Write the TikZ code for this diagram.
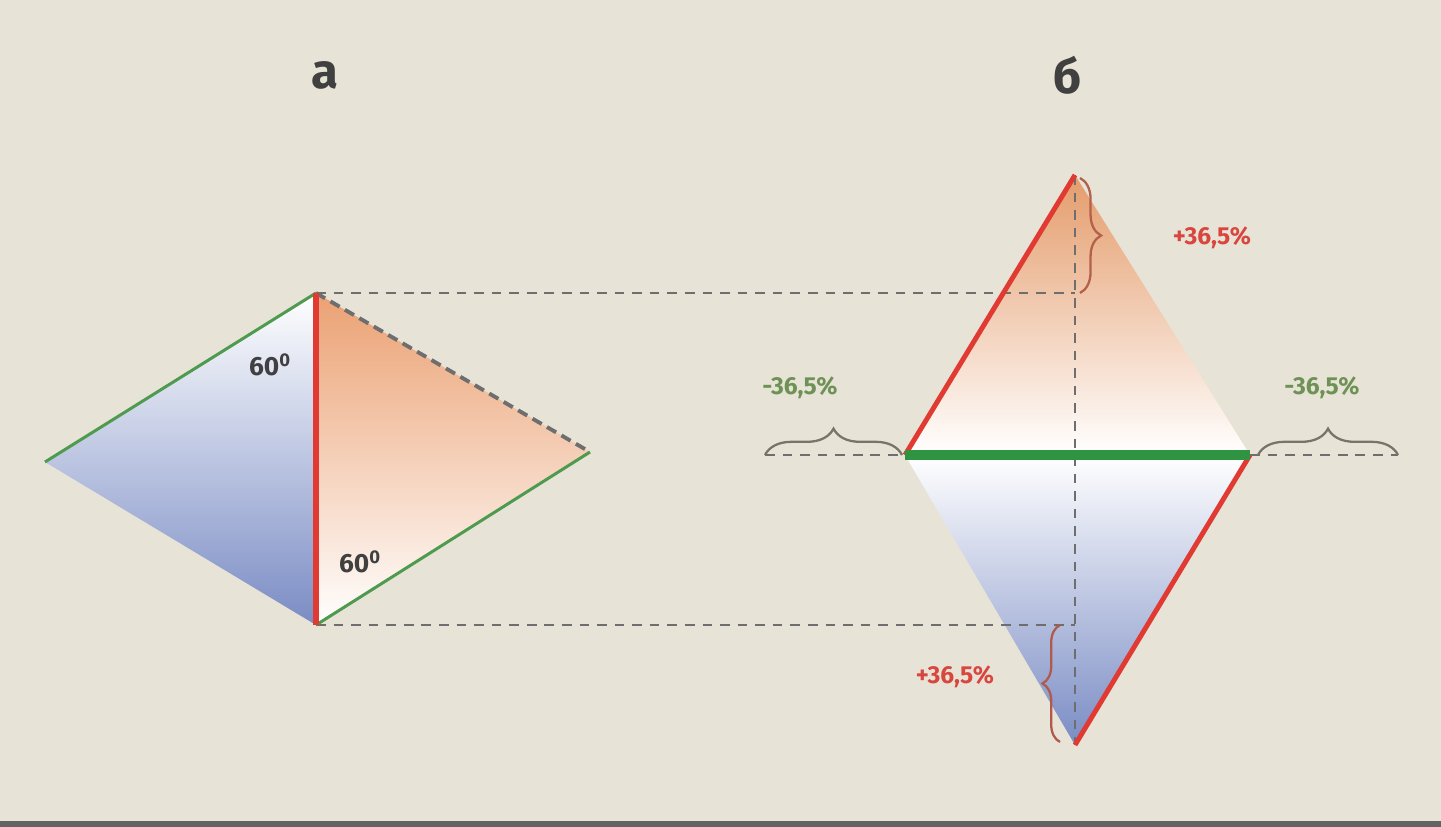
\documentclass[tikz,border=0pt]{standalone}
\usepackage{fontspec}
\setmainfont{Fira Sans}
\usetikzlibrary{decorations.pathreplacing}

\definecolor{paper}{HTML}{E7E4D7}
\definecolor{edgered}{HTML}{E03A32}
\definecolor{edgegreen}{HTML}{4E9A4E}
\definecolor{bargreen}{HTML}{2F9441}
\definecolor{txtred}{HTML}{D8463E}
\definecolor{txtgreen}{HTML}{6E9156}
\definecolor{peach}{HTML}{EBA173}
\definecolor{steel}{HTML}{7A8CC4}
\definecolor{guide}{HTML}{6E6E6E}
\definecolor{bracered}{HTML}{B05A4E}
\definecolor{bracegray}{HTML}{7A7468}

\newcommand*{\picw}{1441}
\newcommand*{\pich}{827}

\begin{document}
\begin{tikzpicture}
[
	x=0.02cm, y=-0.02cm,
	rededge/.style={edgered,line width=3.4pt},
	greenedge/.style={edgegreen,line width=1.7pt},
	guideline/.style={guide,line width=1.1pt,dash pattern=on 5.5pt off 4.5pt},
	bracemark/.style={decorate,decoration={brace,amplitude=#1},line width=1.3pt},
	pct/.style={font=\fontsize{14}{16}\selectfont\bfseries},
	angle label/.style={font=\fontsize{15}{17}\selectfont\bfseries,text=black!75},
	caption/.style={font=\fontsize{28}{30}\selectfont\bfseries,text=black!75}
]

	% paper
	\fill[paper] (0,0) rectangle (\picw,\pich);
	\useasboundingbox (0,0) rectangle (\picw,\pich);
	\fill[guide!90!black] (0,821) rectangle (\picw,\pich);

	% corners
	\coordinate (aL) at (45,462);
	\coordinate (aT) at (316,293);
	\coordinate (aR) at (590,452);
	\coordinate (aB) at (316,625);
	\coordinate (bL) at (905,455);
	\coordinate (bR) at (1250,455);
	\coordinate (bT) at (1075,175);
	\coordinate (bB) at (1075,745);
	\coordinate (lEnd) at (765,455);
	\coordinate (rEnd) at (1398,455);

	% fills
	\shade[top color=white,bottom color=steel] (aL) -- (aT) -- (aB) -- cycle;
	\shade[top color=peach,bottom color=white] (aT) -- (aR) -- (aB) -- cycle;
	\shade[top color=peach!85!brown,middle color=peach!45!white,bottom color=white] (bL) -- (bT) -- (bR) -- cycle;
	\shade[top color=white,bottom color=steel] (bL) -- (bR) -- (bB) -- cycle;

	% guides
	\draw[guideline] (aT) -- (aT -| bT);
	\draw[guideline] (aB) -- (aB -| bT);
	\draw[guideline] (bT) -- (bB);
	\draw[guideline] (lEnd) -- (bL);
	\draw[guideline] (bR) -- (rEnd);

	% rhombus a
	\draw[greenedge] (aL) -- (aT);
	\draw[greenedge] (aR) -- (aB);
	\draw[guide,line width=2.2pt,dash pattern=on 6pt off 3.5pt] (aT) -- (aR);
	\draw[rededge] (aT) -- (aB);

	% figure b
	\draw[rededge,line width=2.8pt] (bL) -- (bT);
	\draw[rededge,line width=2.8pt] (bR) -- (bB);
	\draw[bargreen,line width=5.7pt] (bL) -- (bR);

	% braces
	\draw[bracemark=12pt,bracered!80!brown] (1080,178) -- (1080,293);
	\draw[bracemark=10pt,bracered] (1060,742) -- (1060,625);
	\foreach \xa/\xb in {765/902,1258/1398} {
		\draw[bracemark=15pt,bracegray] (\xa,455) -- (\xb,455);
	}

	% labels
	\node[caption] (capA) at (325,75) {а};
	\node[caption] (capB) at (1068,75) {б};
	\node[angle label] (angTop) at (270,365) {60\textsuperscript{0}};
	\node[angle label] (angBot) at (360,562) {60\textsuperscript{0}};
	\node[pct,txtred] (pctTop) at (1212,238) {+36,5\%};
	\node[pct,txtred] (pctBot) at (955,677) {+36,5\%};
	\node[pct,txtgreen] (pctL) at (800,388) {-36,5\%};
	\node[pct,txtgreen] (pctR) at (1322,388) {-36,5\%};

\end{tikzpicture}
\end{document}
